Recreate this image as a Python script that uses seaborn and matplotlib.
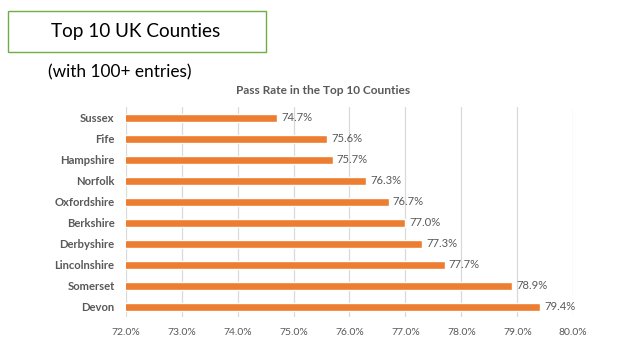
import matplotlib
matplotlib.use("Agg")
import matplotlib.pyplot as plt
import matplotlib.patches as patches
import pandas as pd
import seaborn as sns

# data
counties = ["Sussex", "Fife", "Hampshire", "Norfolk", "Oxfordshire",
            "Berkshire", "Derbyshire", "Lincolnshire", "Somerset", "Devon"]
pass_rate = [74.7, 75.6, 75.7, 76.3, 76.7, 77.0, 77.3, 77.7, 78.9, 79.4]
x_ticks = [72, 73, 74, 75, 76, 77, 78, 79, 80]

df = pd.DataFrame({"County": counties, "PassRate": pass_rate})

sns.set_style("white")
plt.rcParams["font.family"] = ["Lato", "DejaVu Sans"]

orange = "#ED7D31"
grey_txt = "#595959"

fig = plt.figure(figsize=(6.38, 3.59), dpi=100)

# header box + subtitle
box = patches.FancyBboxPatch((8 / 638, 1 - 52 / 359), 258 / 638, 41 / 359,
                             boxstyle="square,pad=0", transform=fig.transFigure,
                             fill=False, edgecolor="#70AD47", linewidth=1.0)
fig.patches.append(box)
fig.text(136 / 638, 1 - 32 / 359, "Top 10 UK Counties", ha="center", va="center",
         fontsize=13.6, color="black")
fig.text(48 / 638, 1 - 72 / 359, "(with 100+ entries)", ha="left", va="center",
         fontsize=12.4, color="black")

ax = fig.add_axes([0.197, 0.1164, 0.7016, 0.585])
sns.barplot(data=df, y="County", x="PassRate", color=orange, orient="h",
            width=0.38, saturation=1, ax=ax)

ax.set_xlim(72, 80)
ax.set_xticks(x_ticks)
ax.set_xticklabels([f"{t:.1f}%" for t in x_ticks], fontsize=7.5, color=grey_txt)
ax.tick_params(axis="y", length=0, labelsize=8.1, labelcolor=grey_txt, pad=8)
ax.tick_params(axis="x", length=0, pad=8)
for lbl in ax.get_yticklabels():
    lbl.set_fontweight("bold")
ax.set_xlabel("")
ax.set_ylabel("")
ax.grid(axis="x", color="#D9D9D9", linewidth=0.9)
ax.set_axisbelow(True)
for s in ax.spines.values():
    s.set_visible(False)

ax.bar_label(ax.containers[0], labels=[f"{v:.1f}%" for v in pass_rate],
             padding=3, fontsize=8.1, color=grey_txt)

fig.text(323 / 638, 1 - 91 / 359, "Pass Rate in the Top 10 Counties", ha="center",
         va="center", fontsize=8.6, fontweight="bold", color=grey_txt)

fig.savefig("out.png", dpi=100)
